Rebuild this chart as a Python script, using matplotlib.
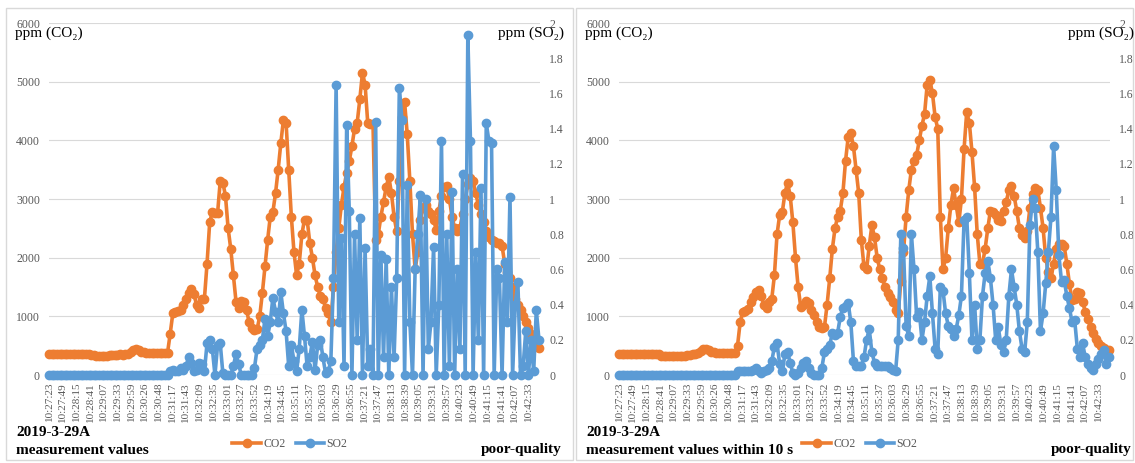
import numpy as np
import matplotlib
matplotlib.use("Agg")
import matplotlib.pyplot as plt
from matplotlib.lines import Line2D
from matplotlib.patches import Rectangle

plt.rcParams['font.family'] = ['Liberation Serif', 'DejaVu Serif']

W, H = 1135, 463
ORANGE = '#ED7D31'
BLUE = '#5B9BD5'
GRAY = '#595959'
GRID = '#d9d9d9'

# category labels (one label every 26 samples)
time_labels = ['10:27:23', '10:27:49', '10:28:15', '10:28:41', '10:29:07', '10:29:33',
               '10:29:59', '10:30:26', '10:30:48', '10:31:17', '10:31:43', '10:32:09',
               '10:32:35', '10:33:01', '10:33:27', '10:33:52', '10:34:19', '10:34:45',
               '10:35:11', '10:35:37', '10:36:03', '10:36:29', '10:36:55', '10:37:21',
               '10:37:47', '10:38:13', '10:38:39', '10:39:05', '10:39:31', '10:39:57',
               '10:40:23', '10:40:49', '10:41:15', '10:41:41', '10:42:07', '10:42:33']
label_every = 26
n_categories = 932
step = 5  # values below every 5th sample

# left chart: measurement values
co2_raw = ([350] * 16
           + [340, 335, 330, 330, 330, 330, 330, 335, 340, 340, 345, 350]
           + [345, 350, 360, 390, 430, 440, 420, 400, 385]
           + [380] * 9
           + [700, 1050, 1080, 1090, 1100, 1200, 1290, 1400, 1470, 1380, 1200, 1150, 1290, 1300]
           + [1900, 2600, 2780, 2760, 2760, 3300, 3280, 3050, 2500, 2150,
              1700, 1250, 1150, 1260, 1240, 1100, 900, 800, 770, 780]
           + [1000, 1400, 1850, 2300, 2700, 2780, 3100, 3500, 3950, 4350,
              4300, 3500, 2700, 2100, 1700, 1900, 2400, 2650, 2650, 2250]
           + [2000, 1700, 1500, 1350, 1300, 1150, 1050, 900, 1500, 2100,
              2500, 2900, 3200, 3450, 3650, 3900, 4200, 4300, 4700, 5150]
           + [4950, 4300, 4280, 4280, 2300, 2400, 2700, 2950, 3200, 3380,
              3100, 2700, 2450, 3300, 4400, 4650, 4100, 3300, 2400, 1800]
           + [2100, 2650, 2850, 2900, 2800, 2750, 2650, 2480, 2800, 3050,
              3200, 3220, 3000, 2700, 2500, 2450, 2500, 2750, 3000, 3250]
           + [3350, 3300, 3100, 2900, 2750, 2600, 2450, 2350, 2300, 2280,
              2250, 2250, 2200, 1900, 1750, 1650, 1500, 1300, 1200, 1100]
           + [1000, 900, 800, 700, 620, 530, 460])

so2_raw = ([0] * 46
           + [0.02, 0.03, 0.02, 0.02, 0.04, 0.03, 0.05, 0.1, 0.07, 0.02, 0.03, 0.07, 0.06, 0.02]
           + [0.18, 0.2, 0.15, 0, 0.17, 0.18, 0.01, 0, 0, 0,
              0.05, 0.12, 0.06, 0, 0, 0, 0, 0, 0.04, 0.15]
           + [0.17, 0.2, 0.32, 0.22, 0.3, 0.44, 0.36, 0.3, 0.47, 0.35,
              0.25, 0.05, 0.17, 0.08, 0.02, 0.15, 0.37, 0.22, 0.05, 0.1]
           + [0.19, 0.03, 0.17, 0.2, 0.1, 0.01, 0.02, 0.08, 0.55, 1.65,
              0.3, 0.78, 0.05, 1.42, 0.93, 0.0, 0.8, 0.2, 0.89, 0.0]
           + [0.72, 0.05, 0.15, 0.0, 1.44, 0, 0.68, 0.1, 0.66, 0.0,
              0.5, 0.1, 0.55, 1.63, 1.45, 0.0, 1.08, 0.3, 0.0, 0.6]
           + [0.8, 1.02, 0.0, 1.0, 0.15, 0.3, 0.73, 0.0, 0.4, 1.33,
              0.0, 0.8, 0.05, 1.04, 0.0, 0.6, 0.15, 1.14, 0.0, 1.93]
           + [1.33, 0.0, 0.7, 0.2, 1.06, 0.0, 1.43, 1.33, 1.32, 0.0,
              0.6, 0.55, 0.0, 0.64, 0.3, 1.01, 0.0, 0.4, 0.53, 0.0]
           + [0.05, 0.25, 0.0, 0.2, 0.02, 0.37, 0.2])

# right chart: measurement values within 10 s
co2_avg = ([350] * 16
           + [330] * 10
           + [340, 345, 350]
           + [360, 380, 410, 440, 440, 420, 400, 385]
           + [380] * 8
           + [500, 900, 1080, 1090, 1120, 1250, 1330, 1420, 1450, 1350, 1200, 1140, 1250, 1300, 1700]
           + [2400, 2730, 2780, 3100, 3280, 3050, 2600, 2000, 1500, 1160,
              1200, 1260, 1230, 1100, 1020, 900, 810, 800, 820, 1200]
           + [1650, 2150, 2500, 2700, 2800, 3100, 3650, 4050, 4120, 3900,
              3500, 3100, 2300, 1850, 1800, 2200, 2550, 2350, 2000, 1800]
           + [1650, 1500, 1400, 1330, 1250, 1100, 1050, 1600, 2100, 2700,
              3150, 3500, 3650, 3750, 4000, 4250, 4450, 4950, 5030, 4800]
           + [4400, 4200, 2700, 1800, 2000, 2500, 2900, 3180, 2900, 2600,
              3000, 3850, 4480, 4300, 3800, 3200, 2400, 1900, 1900, 2150]
           + [2500, 2800, 2780, 2730, 2650, 2620, 2800, 2950, 3150, 3230,
              3050, 2800, 2500, 2380, 2330, 2450, 2850, 3080, 3180, 3150]
           + [2850, 2500, 2000, 1750, 1650, 1900, 2150, 2230, 2230, 2200,
              1900, 1550, 1280, 1300, 1420, 1400, 1250, 1080, 950, 820]
           + [720, 620, 540, 490, 460, 430, 420])

so2_avg = ([0] * 45
           + [0.02, 0.02, 0.02, 0.02, 0.02, 0.02, 0.03, 0.04, 0.02, 0.01, 0.02, 0.03, 0.04, 0.08, 0.16]
           + [0.18, 0.06, 0.02, 0.12, 0.13, 0.07, 0.01, 0, 0.01, 0.04,
              0.07, 0.08, 0.04, 0.01, 0, 0, 0, 0.04, 0.13, 0.15]
           + [0.17, 0.24, 0.23, 0.24, 0.33, 0.38, 0.39, 0.41, 0.3, 0.08,
              0.05, 0.05, 0.05, 0.1, 0.2, 0.26, 0.13, 0.07, 0.05, 0.05]
           + [0.05, 0.05, 0.05, 0.04, 0.03, 0.02, 0.2, 0.8, 0.72, 0.28,
              0.22, 0.8, 0.6, 0.33, 0.36, 0.2, 0.3, 0.45, 0.56, 0.35]
           + [0.15, 0.12, 0.5, 0.48, 0.35, 0.28, 0.26, 0.22, 0.26, 0.34,
              0.45, 0.88, 0.9, 0.58, 0.2, 0.4, 0.15, 0.2, 0.45, 0.58]
           + [0.65, 0.55, 0.4, 0.2, 0.27, 0.17, 0.13, 0.2, 0.45, 0.6,
              0.5, 0.4, 0.25, 0.15, 0.13, 0.3, 0.85, 1.0, 0.95, 0.7]
           + [0.25, 0.35, 0.52, 0.7, 0.9, 1.3, 1.05, 0.68, 0.53, 0.54,
              0.45, 0.38, 0.3, 0.31, 0.15, 0.1, 0.18, 0.1, 0.06, 0.04]
           + [0.03, 0.06, 0.09, 0.12, 0.14, 0.06, 0.1])

date_text = '2019-3-29A'
quality_text = 'poor-quality'
captions = ['measurement values', 'measurement values within 10 s']


def fx(px):
    return px / W


def fy(py):
    return 1 - py / H


fig = plt.figure(figsize=(W / 100, H / 100), dpi=100)

line_kw = dict(lw=2.6, marker='o', ms=6, clip_on=False)
panels = [(0, co2_raw, so2_raw, captions[0]), (570, co2_avg, so2_avg, captions[1])]

for dx, co2, so2, caption in panels:
    # panel frame
    x0 = 6 + dx
    x1 = 573 + dx if dx == 0 else 1133
    fig.add_artist(Rectangle((fx(x0), fy(460)), fx(x1 - x0), 452 / H,
                             transform=fig.transFigure, fill=False, ec=GRID, lw=1))

    ax = fig.add_axes([fx(49 + dx), fy(375), fx(491), 352 / H])
    xs = np.arange(len(co2)) * step
    ax.plot(xs, co2, color=ORANGE, **line_kw)
    ax.set_xlim(0, n_categories)
    ax.set_ylim(0, 6000)
    ax.set_yticks(range(0, 7000, 1000))
    ax.grid(axis='y', color=GRID, lw=0.8)
    ax.set_axisbelow(True)
    ax.set_xticks(np.arange(len(time_labels)) * label_every)
    ax.set_xticklabels(time_labels, rotation=90, fontsize=8, color=GRAY)
    ax.tick_params(axis='y', length=0, labelsize=8.5, colors=GRAY, pad=6.5)
    ax.tick_params(axis='x', length=0, pad=5)

    ax2 = ax.twinx()
    ax2.plot(np.arange(len(so2)) * step, so2, color=BLUE, **line_kw)
    ax2.set_ylim(0, 2)
    ticks2 = np.arange(0, 2.01, 0.2)
    ax2.set_yticks(ticks2)
    ax2.set_yticklabels([f'{v:g}' for v in ticks2])
    ax2.tick_params(axis='y', length=0, labelsize=8.5, colors=GRAY, pad=6.5)

    for a in (ax, ax2):
        for s in a.spines.values():
            s.set_visible(False)

    fig.text(fx(15 + dx), fy(33), 'ppm (CO₂)', fontsize=11, va='center', ha='left')
    fig.text(fx(564 + dx), fy(33), 'ppm (SO₂)', fontsize=11, va='center', ha='right')

    fig.text(fx(16 + dx), fy(433), date_text, fontsize=11, weight='bold', va='center')
    fig.text(fx(16 + dx), fy(450), caption, fontsize=11, weight='bold', va='center')
    fig.text(fx(562 + dx), fy(450), quality_text, fontsize=11, weight='bold',
             va='center', ha='right')

    handles = [Line2D([], [], color=ORANGE, lw=2.6, marker='o', ms=6),
               Line2D([], [], color=BLUE, lw=2.6, marker='o', ms=6)]
    fig.legend(handles, ['CO2', 'SO2'], loc='center', ncol=2, frameon=False,
               bbox_to_anchor=(fx(290 + dx), fy(444)), fontsize=8.5, labelcolor=GRAY,
               handlelength=2.4, handletextpad=0.2, columnspacing=0.9,
               borderaxespad=0, borderpad=0)

fig.savefig('out.png', dpi=100)
